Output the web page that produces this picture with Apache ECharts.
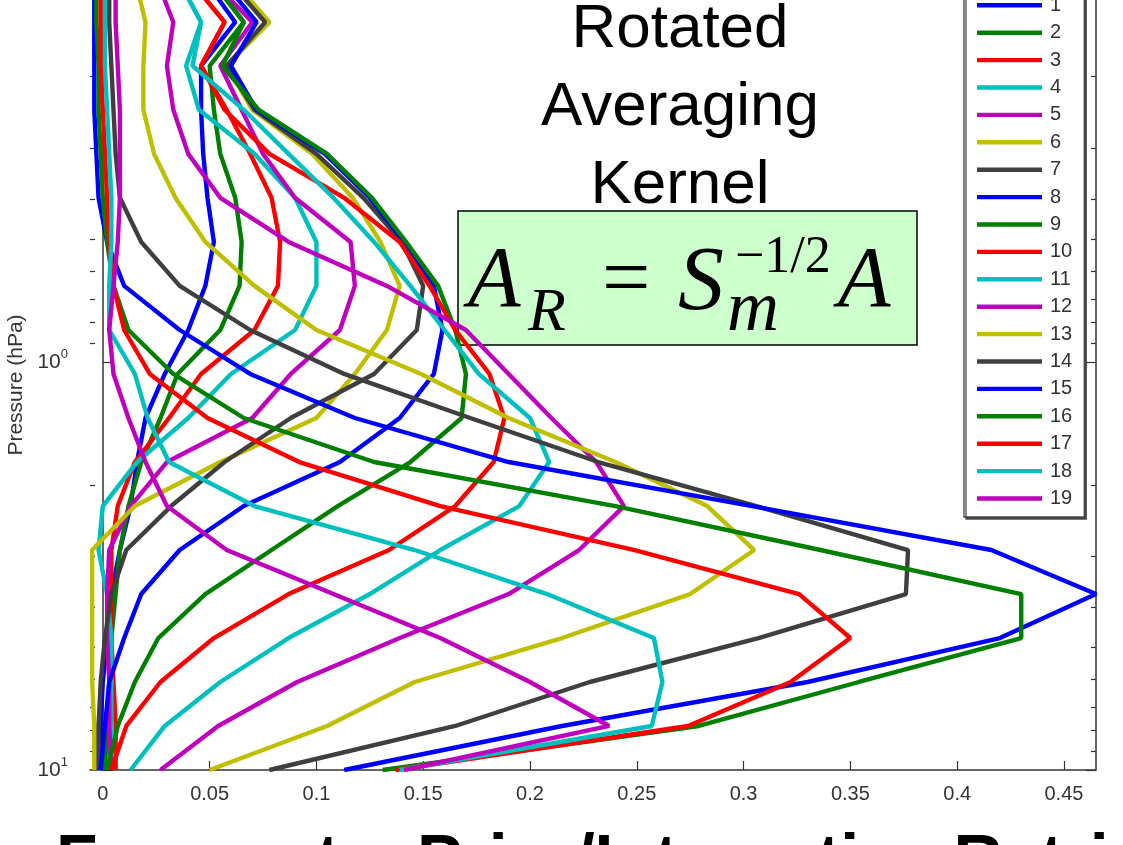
<!DOCTYPE html>
<html><head><meta charset="utf-8">
<script src="https://cdn.jsdelivr.net/npm/echarts@6/dist/echarts.min.js"></script>
<style>html,body{margin:0;padding:0;background:#fff;overflow:hidden}#c{width:1123px;height:845px;}</style>
</head><body><div id="c"></div>
<script>
// pressure levels (hPa), bottom (10 hPa) to top
const pressureLevels = [10.0, 7.80, 6.086, 4.749, 3.705, 2.890, 2.255, 1.759, 1.372, 1.070, 0.835, 0.651, 0.508, 0.396, 0.309, 0.241, 0.188, 0.147, 0.1145];

const s1  = [-0.001,-0.001,0.000,0.002,0.004,0.008,0.013,0.016,0.020,0.029,0.040,0.048,0.052,0.049,0.047,0.046,0.046,0.062,0.047];
const s2  = [0.001,0.002,0.003,0.004,0.006,0.008,0.012,0.018,0.027,0.035,0.055,0.064,0.065,0.062,0.055,0.052,0.050,0.066,0.050];
const s3  = [0.006,0.006,0.005,0.004,0.004,0.004,0.007,0.015,0.031,0.046,0.071,0.082,0.083,0.079,0.069,0.058,0.046,0.057,0.040];
const s4  = [0.003,0.004,0.004,0.004,0.002,-0.002,0.000,0.016,0.040,0.060,0.090,0.100,0.100,0.090,0.071,0.045,0.039,0.046,0.035];
const s5  = [0.004,0.003,0.003,0.002,0.002,0.003,0.013,0.030,0.070,0.088,0.111,0.118,0.116,0.090,0.075,0.065,0.055,0.070,0.050];
const s6  = [-0.004,-0.004,-0.005,-0.005,-0.005,-0.005,0.015,0.055,0.100,0.118,0.133,0.139,0.130,0.117,0.098,0.070,0.058,0.078,0.060];
const s7  = [-0.002,-0.002,-0.001,0.001,0.004,0.011,0.032,0.057,0.088,0.127,0.147,0.150,0.140,0.122,0.100,0.071,0.058,0.076,0.058];
const s8  = [-0.001,0.001,0.003,0.010,0.018,0.036,0.066,0.111,0.139,0.155,0.159,0.155,0.141,0.125,0.104,0.072,0.060,0.072,0.055];
const s9  = [0.002,0.007,0.015,0.026,0.048,0.079,0.110,0.144,0.168,0.170,0.165,0.157,0.142,0.126,0.105,0.073,0.056,0.066,0.050];
const s10 = [0.004,0.011,0.027,0.052,0.087,0.134,0.165,0.183,0.188,0.181,0.165,0.153,0.139,0.113,0.078,0.057,0.046,0.057,0.040];
const s11 = [0.013,0.029,0.055,0.087,0.125,0.158,0.195,0.209,0.200,0.176,0.160,0.144,0.127,0.108,0.087,0.066,0.042,0.046,0.035];
const s12 = [0.027,0.054,0.091,0.139,0.190,0.223,0.244,0.231,0.210,0.190,0.170,0.133,0.087,0.055,0.040,0.033,0.030,0.033,0.025];
const s13 = [0.050,0.105,0.146,0.215,0.275,0.305,0.283,0.240,0.190,0.149,0.100,0.071,0.048,0.034,0.024,0.019,0.019,0.020,0.015];
const s14 = [0.078,0.165,0.228,0.307,0.376,0.377,0.306,0.232,0.172,0.113,0.069,0.036,0.018,0.008,0.006,0.005,0.004,0.003,0.003];
const s15 = [0.113,0.215,0.330,0.420,0.465,0.416,0.304,0.190,0.118,0.069,0.036,0.010,0.002,-0.002,-0.003,-0.004,-0.004,-0.004,-0.004];
const s16 = [0.131,0.279,0.354,0.430,0.430,0.336,0.240,0.127,0.066,0.033,0.012,0.005,0.002,0.000,-0.001,-0.002,-0.002,-0.003,-0.003];
const s17 = [0.137,0.274,0.322,0.350,0.326,0.249,0.158,0.092,0.049,0.022,0.010,0.005,0.003,0.002,0.001,0.000,-0.001,-0.001,-0.001];
const s18 = [0.139,0.257,0.262,0.258,0.208,0.146,0.071,0.031,0.021,0.015,0.003,0.003,0.004,0.004,0.003,0.002,0.001,0.001,0.001];
const s19 = [0.141,0.237,0.200,0.158,0.108,0.058,0.030,0.020,0.012,0.005,0.003,0.005,0.007,0.008,0.008,0.008,0.007,0.006,0.006];

const seriesNames = ['1','2','3','4','5','6','7','8','9','10','11','12','13','14','15','16','17','18','19'];
const seriesValues = [s1,s2,s3,s4,s5,s6,s7,s8,s9,s10,s11,s12,s13,s14,s15,s16,s17,s18,s19];
const palette = ['#0000ff','#007f00','#ff0000','#00bfbf','#bf00bf','#bfbf00','#3f3f3f'];

const xTicks = [0,0.05,0.1,0.15,0.2,0.25,0.3,0.35,0.4,0.45];
const yMajorTicks = [1,10];
const yMinorTicks = [0.2,0.3,0.4,0.5,0.6,0.7,0.8,0.9,2,3,4,5,6,7,8,9];
const yLabelTicks = [1,10];

const titleLines = ['Rotated','Averaging','Kernel'];
const bottomText = 'Forecast = Prior/Interactive Retrieval';

const chart = echarts.init(document.getElementById('c'), null, {renderer:'canvas'});

const axisColor = '#333';
const labelFont = 'Liberation Sans, Arial, sans-serif';
const yMin = 0.1297, yMax = 10;

function yAxisDef(position, ticks, len, showLine, showLabel, name){
  return {
    type:'log', logBase:10, min:yMin, max:yMax, inverse:true, position:position,
    name: name || '', nameLocation:'middle', nameGap:58,
    nameTextStyle:{fontSize:21, color:'#333', fontFamily:labelFont},
    axisLine:{show:showLine, lineStyle:{color:axisColor, width:1.5}},
    axisTick:{show:true, inside:true, length:len, customValues:ticks, lineStyle:{color:axisColor, width:1.2}},
    axisLabel:{show:showLabel, customValues:yLabelTicks, margin:22,
      formatter:function(v){ return '{b|10}{s|' + Math.round(Math.log10(v)) + '}'; },
      rich:{ b:{fontSize:21, color:'#333', fontFamily:labelFont, lineHeight:28},
             s:{fontSize:13, color:'#333', fontFamily:labelFont, verticalAlign:'top', lineHeight:14} } },
    splitLine:{show:false}, minorTick:{show:false}
  };
}

const series = seriesValues.map((vals, i) => ({
  name: seriesNames[i], type:'line', xAxisIndex:0, yAxisIndex:0,
  showSymbol:false, symbol:'none', silent:true, animation:false,
  lineStyle:{width:4.4, color:palette[i % 7]}, itemStyle:{color:palette[i % 7]},
  data: pressureLevels.map((p, k) => [vals[k], p])
}));

const graphics = [];
const titleBaselines = [49, 127, 205];
titleLines.forEach((t, i) => {
  graphics.push({type:'text', x:680, y:titleBaselines[i] - 0.305*62,
    style:{text:t, font:'62px Liberation Sans, Arial, sans-serif', fill:'#000', textAlign:'center', textVerticalAlign:'middle'}});
});
graphics.push({type:'rect', shape:{x:458, y:211, width:459, height:134},
  style:{fill:'#ccffcc', stroke:'#000', lineWidth:1.5}});
function eqText(txt, x, base, fs, italic){
  graphics.push({type:'text', x:x, y:base - 0.305*fs,
    style:{text:txt, font:(italic?'italic ':'') + fs + 'px Liberation Serif, Times New Roman, serif', fill:'#000', textAlign:'left', textVerticalAlign:'middle'}});
}
eqText('A', 468, 310, 86, true);
eqText('R', 528, 333, 62, true);
eqText('=', 602, 310, 86, false);
eqText('S', 678, 313, 92, true);
eqText('m', 727, 333, 72, true);
eqText('\u22121/2', 735, 274, 52, false);
eqText('A', 838, 310, 86, true);
graphics.push({type:'text', x:56, y:884 - 0.305*68,
  style:{text:bottomText, font:'bold 68px Liberation Sans, Arial, sans-serif', fill:'#000', textAlign:'left', textVerticalAlign:'middle'}});

const option = {
  animation:false,
  backgroundColor:'#fff',
  grid:{left:90, right:27, top:0, bottom:75, containLabel:false, outerBoundsMode:'none'},
  xAxis:[{
    type:'value', min:-0.006, max:0.465, position:'bottom',
    axisLine:{show:true, onZero:false, lineStyle:{color:axisColor, width:1.5}},
    axisTick:{show:true, inside:true, length:9, customValues:xTicks, lineStyle:{color:axisColor, width:1.2}},
    axisLabel:{show:true, customValues:xTicks, margin:14, fontSize:20, color:'#333', fontFamily:labelFont,
      formatter:function(v){ return String(v); }},
    splitLine:{show:false}
  }],
  yAxis:[
    yAxisDef('left', yMajorTicks, 10, true, true, 'Pressure (hPa)'),
    yAxisDef('left', yMinorTicks, 5, false, false),
    yAxisDef('right', yMajorTicks, 10, true, false),
    yAxisDef('right', yMinorTicks, 5, false, false)
  ],
  legend:{
    show:true, orient:'vertical', left:964, top:-12.7,
    padding:[8, 12, 8.5, 13], itemGap:7.4, itemWidth:65, itemHeight:14,
    icon:'path://M0,0L65,0L65,4.4L0,4.4Z',
    backgroundColor:'#fff', borderColor:'#444', borderWidth:1.3,
    shadowColor:'rgba(60,60,60,0.9)', shadowOffsetX:2, shadowOffsetY:2, shadowBlur:0,
    textStyle:{fontSize:20, color:'#333', fontFamily:labelFont, lineHeight:20, padding:[0,0,0,3]},
    data: seriesNames, selectedMode:false
  },
  graphic: graphics,
  series: series
};
chart.setOption(option);
</script>
</body></html>
